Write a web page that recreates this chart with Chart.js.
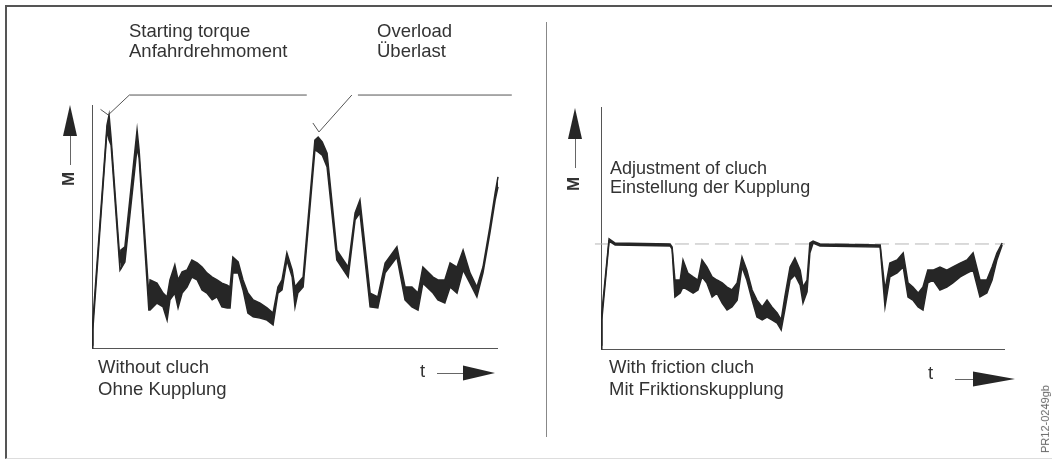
<!DOCTYPE html>
<html>
<head>
<meta charset="utf-8">
<script src="https://cdn.jsdelivr.net/npm/chart.js@4.4.1/dist/chart.umd.min.js"></script>
<style>
  body { margin: 0; background: #fff; }
  #page { position: relative; width: 1052px; height: 459px; overflow: hidden; font-family: Arial, "Liberation Sans", sans-serif; color: #333; }
  .frame { position: absolute; left: 5px; top: 5px; width: 1050px; height: 451px; border-top: 2px solid #555; border-left: 2px solid #555; border-bottom: 1px solid #ddd; }
  .divider { position: absolute; left: 546px; top: 22px; width: 1px; height: 415px; background: #888; }
  .txt { position: absolute; font-size: 18.5px; line-height: 22px; white-space: nowrap; }
  .rot { position: absolute; transform: rotate(-90deg); transform-origin: center; white-space: nowrap; }
  canvas { position: absolute; top: 0; }
</style>
</head>
<body>
<div id="page">
  <div class="frame"></div>
  <div class="divider"></div>
  <canvas id="leftChart" style="left:0" width="546" height="459"></canvas>
  <canvas id="rightChart" style="left:546px" width="506" height="459"></canvas>

  <div class="txt" style="left:129px;top:21px;line-height:20px">Starting torque<br>Anfahrdrehmoment</div>
  <div class="txt" style="left:377px;top:21px;line-height:20px">Overload<br>Überlast</div>
  <div class="txt" style="left:98px;top:356px">Without cluch<br>Ohne Kupplung</div>
  <div class="txt" style="left:420px;top:360px">t</div>
  <div class="txt" style="left:610px;top:159px;font-size:18px;line-height:19px">Adjustment of cluch<br>Einstellung der Kupplung</div>
  <div class="txt" style="left:609px;top:356px">With friction cluch<br>Mit Friktionskupplung</div>
  <div class="txt" style="left:928px;top:362px">t</div>
  <div class="rot" style="left:62px;top:169px;font-size:17px;font-weight:bold;">M</div>
  <div class="rot" style="left:567px;top:174px;font-size:17px;font-weight:bold;">M</div>
  <div class="rot" style="left:1011px;top:413px;font-size:11px;color:#666;">PR12-0249gb</div>
</div>

<script>
// Without clutch: time (0-100) and torque band (upper / lower edge)
const leftTime = [0, 0.2, 3.7, 4.2, 4.7, 6.9, 7.1, 8.1, 11.1, 11.6, 14.0, 14.3, 16.0, 17.5, 18.5, 19.2, 20.4, 21.2, 22.2, 23.4,
  24.6, 25.9, 27.1, 28.3, 29.6, 30.8, 32.0, 33.3, 34.0, 34.7, 36.0, 37.2, 38.4, 39.7, 41.4, 43.1, 44.6, 45.8, 46.8, 48.0,
  49.3, 50.0, 50.7, 52.0, 54.9, 55.7, 56.7, 57.9, 60.3, 63.1, 64.8, 66.0, 68.5, 70.4, 72.2, 75.1, 77.1, 78.8, 80.3, 81.5,
  84.0, 85.2, 86.9, 88.2, 89.9, 91.4, 93.1, 94.8, 96.3, 98.0, 99.3, 100];
const leftUpper = [1.2, 10.7, 91.8, 95.9, 86.4, 35.4, 40.3, 41.6, 89.7, 81.5, 21.8, 28.0, 26.7, 22.6, 21.0, 28.0, 34.2, 28.0, 31.3, 32.1,
  36.2, 35.0, 33.3, 30.9, 29.2, 28.0, 26.7, 25.9, 25.1, 37.4, 35.4, 28.0, 22.6, 19.8, 18.5, 16.5, 14.4, 25.1, 28.0, 39.1,
  32.1, 25.1, 26.7, 29.2, 85.6, 86.8, 84.8, 80.2, 40.3, 33.3, 55.6, 60.9, 22.6, 21.0, 35.0, 41.6, 25.1, 25.1, 22.6, 33.3,
  29.2, 28.0, 28.0, 35.0, 33.3, 40.3, 30.9, 25.1, 33.3, 49.8, 63.8, 70.4];
const leftLower = [0, 7.4, 89.7, 85.6, 83.5, 32.1, 32.1, 35.4, 82.3, 78.2, 15.6, 15.6, 18.5, 16.9, 11.5, 19.8, 22.6, 16.5, 22.6, 25.1,
  29.2, 28.0, 23.9, 22.6, 19.8, 21.0, 16.9, 16.5, 16.5, 30.9, 30.9, 23.9, 14.4, 12.8, 12.3, 11.5, 9.5, 22.6, 23.9, 36.2,
  29.2, 16.9, 22.6, 25.1, 81.5, 80.7, 79.4, 74.5, 36.2, 29.2, 52.7, 55.6, 16.9, 16.5, 30.9, 37.4, 19.8, 16.9, 15.6, 26.7,
  22.6, 19.8, 18.5, 25.1, 22.6, 32.1, 26.7, 21.0, 30.9, 47.3, 60.9, 66.3];

// callout leaders (Starting torque / Overload)
const startLeaderT = [2.1, 4.0, 9.2, 52.9];
const startLeaderM = [98.2, 95.9, 104.1, 104.1];
const overloadLeaderT = [54.4, 55.9, 64.0, 64.0, 65.5, 103.4];
const overloadLeaderM = [92.6, 88.9, 104.1, null, 104.1, 104.1];

// With friction clutch
const rightTime = [0, 0.2, 2.0, 3.5, 17.1, 17.6, 18.3, 19.6, 20.3, 21.5, 22.8, 24.0, 25.0, 26.2, 27.5, 28.7, 30.0, 31.2, 32.4, 33.7,
  34.9, 36.1, 37.4, 38.6, 39.9, 41.1, 42.3, 43.6, 44.6, 45.5, 46.8, 48.0, 49.3, 50.0, 51.0, 51.7, 52.5, 54.2, 69.1, 70.3,
  71.5, 73.3, 74.8, 76.0, 77.2, 78.5, 79.7, 80.9, 82.2, 83.9, 85.6, 87.1, 88.9, 90.6, 92.1, 93.8, 95.5, 96.8, 98.0, 99.3];
const rightUpper = [1.7, 14.9, 45.5, 43.8, 43.4, 42.1, 28.5, 28.5, 36.8, 31.4, 29.8, 28.5, 36.8, 33.9, 29.8, 28.5, 27.3, 25.6, 24.4, 27.3,
  38.0, 32.6, 24.4, 20.2, 17.4, 20.2, 17.4, 14.9, 12.0, 21.5, 33.9, 37.6, 32.6, 25.6, 28.5, 43.8, 44.6, 43.4, 43.0, 24.4,
  35.5, 36.8, 39.7, 27.3, 25.6, 23.1, 25.6, 32.6, 32.6, 33.9, 32.6, 33.9, 35.5, 36.8, 39.7, 28.5, 28.5, 33.9, 39.7, 43.8];
const rightLower = [0, 12.0, 44.6, 43.0, 42.6, 41.3, 21.5, 23.1, 25.6, 24.4, 23.1, 24.4, 29.8, 27.3, 21.5, 23.1, 19.0, 16.1, 17.4, 20.2,
  33.9, 28.5, 20.2, 13.2, 12.0, 13.2, 12.0, 10.7, 7.9, 16.1, 28.5, 30.6, 26.4, 19.0, 23.6, 39.7, 43.8, 42.6, 42.1, 17.4,
  29.8, 31.4, 33.9, 21.5, 20.2, 17.4, 16.1, 27.3, 28.5, 24.4, 25.6, 27.3, 29.8, 31.4, 32.6, 21.5, 23.1, 28.5, 36.8, 43.0];
const clutchSetting = 43.4;
const settingT = [-1.5, 100];

const ink = "#262626";

function pts(xs, ys) {
  return xs.map((x, i) => ({ x: x, y: ys[i] }));
}

// axes plus the M / t arrows, placed off the chart area
const axesArrows = {
  id: "axesArrows",
  beforeDatasetsDraw(chart, args, o) {
    const ctx = chart.ctx;
    const a = chart.chartArea;
    ctx.save();
    ctx.strokeStyle = "#555";
    ctx.lineWidth = 1;
    ctx.beginPath();
    ctx.moveTo(a.left + 0.5, a.top);
    ctx.lineTo(a.left + 0.5, a.bottom + 0.5);
    ctx.lineTo(a.right, a.bottom + 0.5);
    ctx.stroke();

    // M arrow (up)
    const mx = a.left - o.mDx;
    ctx.fillStyle = ink;
    ctx.beginPath();
    ctx.moveTo(mx, a.top + o.mTop);
    ctx.lineTo(mx - 7, a.top + o.mTop + 31);
    ctx.lineTo(mx + 7, a.top + o.mTop + 31);
    ctx.closePath();
    ctx.fill();
    ctx.strokeStyle = "#666";
    ctx.beginPath();
    ctx.moveTo(mx + 0.5, a.top + o.mTop + 31);
    ctx.lineTo(mx + 0.5, a.top + o.mTop + 60);
    ctx.stroke();

    // t arrow (right)
    const ty = a.bottom + o.tDy;
    ctx.beginPath();
    ctx.moveTo(a.right + o.tStart, ty + 0.5);
    ctx.lineTo(a.right + o.tBase, ty + 0.5);
    ctx.stroke();
    ctx.beginPath();
    ctx.moveTo(a.right + o.tBase, ty - 7.5);
    ctx.lineTo(a.right + o.tTip, ty);
    ctx.lineTo(a.right + o.tBase, ty + 7.5);
    ctx.closePath();
    ctx.fill();
    ctx.restore();
  }
};

function bandSets(xs, up, low) {
  return [
    { data: pts(xs, up), borderColor: ink, borderWidth: 1.5, backgroundColor: ink, fill: "+1", pointRadius: 0, tension: 0, clip: false },
    { data: pts(xs, low), borderColor: ink, borderWidth: 1.5, fill: false, pointRadius: 0, tension: 0, clip: false }
  ];
}

function baseOptions(pad, arrows) {
  return {
    responsive: false,
    animation: false,
    events: [],
    layout: { padding: pad },
    plugins: { legend: { display: false }, tooltip: { enabled: false }, axesArrows: arrows },
    scales: {
      x: { type: "linear", min: 0, max: 100, display: false },
      y: { min: 0, max: 100, display: false }
    }
  };
}

new Chart(document.getElementById("leftChart"), {
  type: "line",
  data: {
    datasets: [
      ...bandSets(leftTime, leftUpper, leftLower),
      { data: pts(startLeaderT, startLeaderM), borderColor: "#555", borderWidth: 1, pointRadius: 0, fill: false, clip: false },
      { data: pts(overloadLeaderT, overloadLeaderM), borderColor: "#555", borderWidth: 1, pointRadius: 0, fill: false, spanGaps: false, clip: false }
    ]
  },
  options: baseOptions({ left: 92, right: 48, top: 105, bottom: 111 },
    { mDx: 22, mTop: 0, tDy: 25, tStart: -61, tBase: -35, tTip: -3 }),
  plugins: [axesArrows]
});

new Chart(document.getElementById("rightChart"), {
  type: "line",
  data: {
    datasets: [
      ...bandSets(rightTime, rightUpper, rightLower),
      { data: pts(settingT, [clutchSetting, clutchSetting]), borderColor: "#b5b5b5", borderWidth: 1, borderDash: [14, 6], pointRadius: 0, fill: false, clip: false }
    ]
  },
  options: baseOptions({ left: 55, right: 47, top: 107, bottom: 110 },
    { mDx: 26, mTop: 1, tDy: 30, tStart: -50, tBase: -32, tTip: 10 }),
  plugins: [axesArrows]
});
</script>
</body>
</html>
